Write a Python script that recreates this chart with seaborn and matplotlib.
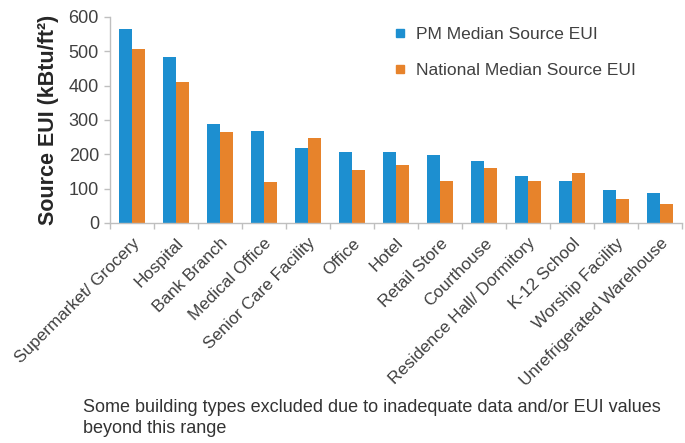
import matplotlib
matplotlib.use("Agg")
import matplotlib.pyplot as plt
from matplotlib.lines import Line2D
from matplotlib.ticker import FixedLocator
import pandas as pd
import seaborn as sns

categories = [
    "Supermarket/ Grocery", "Hospital", "Bank Branch", "Medical Office",
    "Senior Care Facility", "Office", "Hotel", "Retail Store", "Courthouse",
    "Residence Hall/ Dormitory", "K-12 School", "Worship Facility",
    "Unrefrigerated Warehouse",
]
pm_median = [564, 483, 288, 267, 219, 206, 206, 197, 180, 138, 122, 96, 86]
national_median = [506, 412, 266, 119, 247, 153, 168, 122, 159, 121, 145, 71, 56]
series_names = ["PM Median Source EUI", "National Median Source EUI"]
y_ticks = [0, 100, 200, 300, 400, 500, 600]

colors = ["#1d8fd0", "#e7832b"]

df = pd.DataFrame({
    "Building": categories * 2,
    "EUI": pm_median + national_median,
    "Series": [series_names[0]] * len(categories) + [series_names[1]] * len(categories),
})

sns.set_theme(style="white")
plt.rcParams["font.family"] = ["Liberation Sans", "DejaVu Sans"]

fig = plt.figure(figsize=(6.85, 4.43), dpi=100)
ax = fig.add_axes([110 / 685, 1 - 223 / 443, 572 / 685, 206 / 443])

sns.barplot(
    data=df, x="Building", y="EUI", hue="Series", order=categories,
    hue_order=series_names, palette=colors, width=0.58, gap=0,
    saturation=1, linewidth=0, ax=ax, legend=False,
)

ax.set_ylim(0, 600)
ax.set_xlim(-0.5, len(categories) - 0.5)
ax.set_yticks(y_ticks)
ax.set_xlabel("")
ax.set_ylabel("Source EUI (kBtu/ft²)", fontsize=15.5, fontweight="bold",
              color="#262626", labelpad=7)

for side in ["top", "right"]:
    ax.spines[side].set_visible(False)
for side in ["left", "bottom"]:
    ax.spines[side].set_color("#bfbfbf")
    ax.spines[side].set_linewidth(1.0)

ax.tick_params(axis="y", which="major", length=4, width=1, color="#bfbfbf",
               labelsize=13, labelcolor="#404040", pad=4, left=True)
ax.tick_params(axis="x", which="major", length=0, labelsize=12.3,
               labelcolor="#404040", pad=9)
# tick marks sit between categories
ax.xaxis.set_minor_locator(FixedLocator([i + 0.5 for i in range(-1, len(categories))]))
ax.tick_params(axis="x", which="minor", length=4, width=1, color="#bfbfbf",
               bottom=True, direction="out")

for lbl in ax.get_xticklabels():
    lbl.set_rotation(45)
    lbl.set_ha("right")
    lbl.set_rotation_mode("anchor")

handles = [
    Line2D([], [], linestyle="none", marker="s", markersize=6,
           markerfacecolor=c, markeredgecolor=c)
    for c in colors
]
fig.legend(handles, series_names, loc="upper left",
           bbox_to_anchor=(388 / 685, 1 - 20 / 443), frameon=False,
           fontsize=12.5, labelcolor="#404040", handlelength=0.6,
           handletextpad=0.6, labelspacing=1.2, borderaxespad=0)

fig.text(83 / 685, 1 - 399 / 443,
         "Some building types excluded due to inadequate data and/or EUI values\nbeyond this range",
         fontsize=13, color="#333333", va="top", ha="left", linespacing=1.3)

fig.savefig("out.png", dpi=100, facecolor="white")
